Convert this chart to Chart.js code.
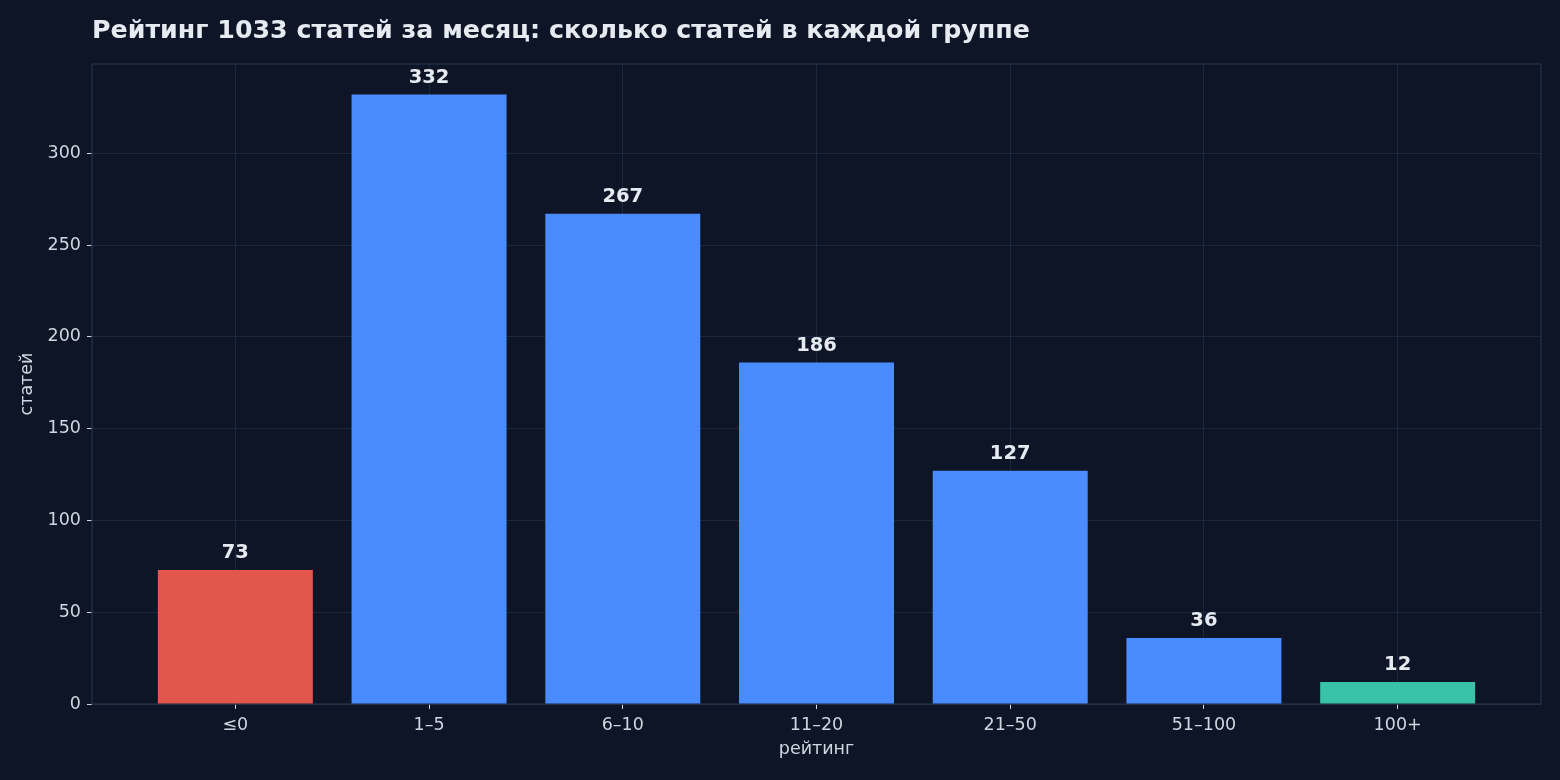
<!DOCTYPE html>
<html>
<head>
<meta charset="utf-8">
<script src="https://cdn.jsdelivr.net/npm/chart.js@4/dist/chart.umd.min.js"></script>
<style>
  html, body { margin: 0; padding: 0; background: #0e1526; }
  #wrap { width: 1560px; height: 780px; }
</style>
</head>
<body>
<div id="wrap"><canvas id="chart" width="1560" height="780"></canvas></div>
<script>
const categories = ['≤0', '1–5', '6–10', '11–20', '21–50', '51–100', '100+'];
const counts = [73, 332, 267, 186, 127, 36, 12];
const barColors = ['#e2574b', '#4a8cff', '#4a8cff', '#4a8cff', '#4a8cff', '#4a8cff', '#38c2a6'];
const yTicks = [0, 50, 100, 150, 200, 250, 300];
const titleText = 'Рейтинг 1033 статей за месяц: сколько статей в каждой группе';

const FONT = '"DejaVu Sans", sans-serif';
const textColor = '#d0d6e0';
const gridColor = 'rgba(40, 58, 88, 0.5)';
const spineColor = '#24324d';

const overlay = {
    id: 'overlay',
    beforeDatasetsDraw(chart) {
        const {ctx, chartArea: a} = chart;
        ctx.save();
        ctx.strokeStyle = spineColor;
        ctx.lineWidth = 1.2;
        ctx.strokeRect(a.left, a.top, a.right - a.left, a.bottom - a.top);
        ctx.restore();
    },
    afterDraw(chart) {
        const {ctx, chartArea: a} = chart;
        ctx.save();
        ctx.fillStyle = '#e6eaf1';
        ctx.font = 'bold 25.3px ' + FONT;
        ctx.textAlign = 'left';
        ctx.textBaseline = 'middle';
        ctx.fillText(titleText, a.left, 31);

        ctx.font = 'bold 19.5px ' + FONT;
        ctx.textAlign = 'center';
        ctx.textBaseline = 'bottom';
        chart.getDatasetMeta(0).data.forEach((bar, i) => {
            ctx.fillText(String(counts[i]), bar.x, bar.y - 7);
        });
        ctx.restore();
    }
};

new Chart(document.getElementById('chart'), {
    type: 'bar',
    data: {
        datasets: [{
            data: counts.map((v, i) => ({x: i, y: v})),
            backgroundColor: barColors,
            borderColor: barColors,
            borderWidth: 0,
            barPercentage: 0.8,
            categoryPercentage: 1.0,
        }]
    },
    options: {
        responsive: false,
        animation: false,
        layout: { padding: { left: 0, top: 64, right: 19, bottom: 0 } },
        plugins: {
            legend: { display: false },
            tooltip: { enabled: false }
        },
        scales: {
            x: {
                type: 'linear',
                offset: false,
                min: -0.74,
                max: categories.length - 1 + 0.74,
                afterFit(scale) { scale.height = 76; },
                afterBuildTicks(scale) {
                    scale.ticks = categories.map((c, i) => ({value: i}));
                },
                ticks: {
                    includeBounds: false,
                    autoSkip: false,
                    maxRotation: 0,
                    padding: 6,
                    color: textColor,
                    font: { family: FONT, size: 17.5 },
                    callback: (v) => categories[v] ?? ''
                },
                grid: {
                    offset: false,
                    color: gridColor,
                    lineWidth: 1,
                    drawTicks: true,
                    tickLength: 5,
                    tickColor: textColor
                },
                border: { display: false },
                title: {
                    display: true,
                    text: 'рейтинг',
                    color: textColor,
                    font: { family: FONT, size: 17.5 },
                    padding: { top: 4, bottom: 20 }
                }
            },
            y: {
                min: 0,
                max: Math.max(...counts) * 1.05,
                afterFit(scale) { scale.width = 92; },
                afterBuildTicks(scale) {
                    scale.ticks = yTicks.map(v => ({value: v}));
                },
                ticks: {
                    includeBounds: false,
                    padding: 6,
                    color: textColor,
                    font: { family: FONT, size: 17.5 }
                },
                grid: {
                    color: gridColor,
                    lineWidth: 1,
                    drawTicks: true,
                    tickLength: 5,
                    tickColor: textColor
                },
                border: { display: false },
                title: {
                    display: true,
                    text: 'статей',
                    color: textColor,
                    font: { family: FONT, size: 17.5 },
                    padding: { top: 17, bottom: 4 }
                }
            }
        }
    },
    plugins: [overlay]
});
</script>
</body>
</html>
